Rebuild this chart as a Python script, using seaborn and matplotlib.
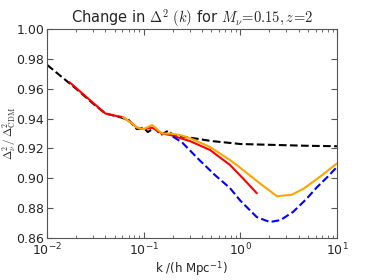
import numpy as np
import pandas as pd
import matplotlib
matplotlib.use('Agg')
import matplotlib.pyplot as plt
import seaborn as sns

# values
k_black = [0.01, 0.02, 0.03, 0.04, 0.057, 0.07, 0.085, 0.1, 0.11, 0.13, 0.15, 0.18,
           0.2, 0.25, 0.32, 0.5, 1.0, 2.5, 5.0, 10.0]
r_black = [0.976, 0.960, 0.950, 0.9435, 0.941, 0.939, 0.933, 0.934, 0.931, 0.934, 0.929,
           0.932, 0.929, 0.928, 0.927, 0.925, 0.923, 0.9223, 0.9218, 0.9215]

k_red = [0.017, 0.025, 0.04, 0.05, 0.061, 0.075, 0.085, 0.1, 0.122, 0.155, 0.19, 0.237,
         0.3, 0.485, 0.78, 1.1, 1.48]
r_red = [0.9645, 0.955, 0.9435, 0.942, 0.941, 0.937, 0.934, 0.933, 0.934, 0.930, 0.929,
         0.927, 0.925, 0.919, 0.909, 0.899, 0.890]

k_orange = [0.061, 0.075, 0.085, 0.1, 0.122, 0.155, 0.19, 0.237, 0.3, 0.485, 0.78, 1.0,
            1.58, 2.39, 3.41, 4.5, 6.65, 10.0]
r_orange = [0.941, 0.937, 0.934, 0.933, 0.9357, 0.930, 0.930, 0.929, 0.927, 0.921, 0.9123,
            0.907, 0.8968, 0.888, 0.889, 0.893, 0.901, 0.910]

k_blue = [0.2, 0.25, 0.38, 0.55, 0.78, 1.0, 1.48, 2.02, 2.6, 3.5, 4.8, 6.2, 8.0, 10.0]
r_blue = [0.928, 0.924, 0.912, 0.902, 0.8935, 0.885, 0.874, 0.8707, 0.872, 0.8774, 0.886,
          0.894, 0.901, 0.9076]

sns.set_style('ticks')
plt.rcParams['font.family'] = ['DejaVu Sans']
plt.rcParams['mathtext.fontset'] = 'cm'
plt.rcParams['xtick.direction'] = 'in'
plt.rcParams['ytick.direction'] = 'in'

fig = plt.figure(figsize=(3.74, 2.8), dpi=100)
ax = fig.add_axes([0.126, 0.15, 0.775, 0.746])

sns.lineplot(x=k_black, y=r_black, ax=ax, color='black', lw=1.5, dashes=(3, 2), linestyle='--')
sns.lineplot(x=k_red, y=r_red, ax=ax, color='red', lw=1.5)
sns.lineplot(x=k_orange, y=r_orange, ax=ax, color='orange', lw=1.5)
sns.lineplot(x=k_blue, y=r_blue, ax=ax, color='blue', lw=1.5, dashes=(3, 2), linestyle='--')

ax.set_xscale('log')
ax.set_xlim(0.01, 10)
ax.set_ylim(0.86, 1.0)
ax.set_yticks([0.86, 0.88, 0.90, 0.92, 0.94, 0.96, 0.98, 1.00])
ax.yaxis.set_major_formatter(matplotlib.ticker.FormatStrFormatter('%.2f'))
ax.tick_params(which='both', top=True, right=True, labelsize=9, color='#555555', pad=2)
ax.tick_params(axis='x', which='major', pad=3)
ax.tick_params(which='major', length=4)
ax.tick_params(which='minor', length=2)
for s in ax.spines.values():
    s.set_color('#555555')

ax.set_title(r'Change in $\Delta^2\ (k)$ for $M_\nu\!=\!0.15,z\!=\!2$', fontsize=10.5, pad=3)
ax.set_xlabel(r'k /(h Mpc$^{\mathregular{-1}}$)', fontsize=8.5, labelpad=1)
ax.set_ylabel(r'$\Delta^2_\nu\,/\,\Delta^2_{\rm CDM}$', fontsize=8)
ax.yaxis.set_label_coords(-0.1, 0.5)

fig.savefig('out.png', dpi=100)
